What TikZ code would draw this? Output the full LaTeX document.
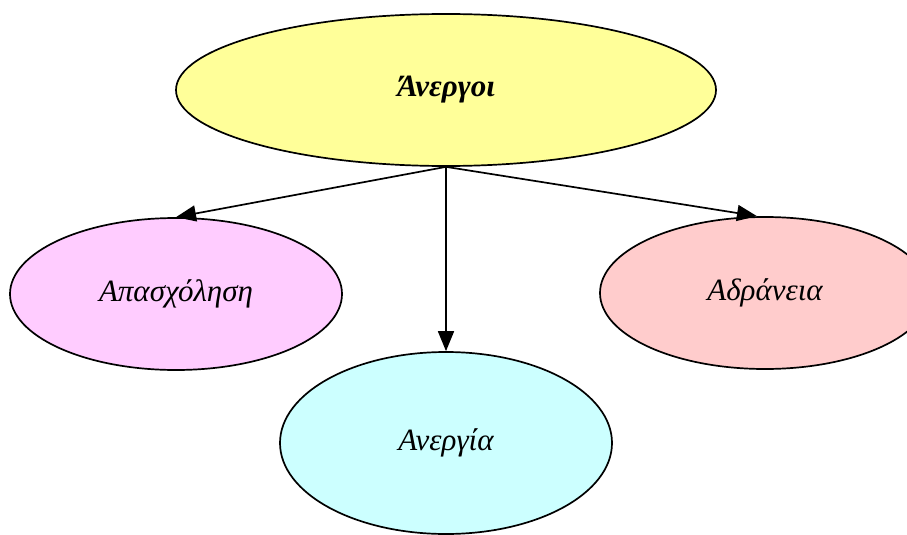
\documentclass[tikz,border=0pt]{standalone}
\usepackage{fontspec}
\usepackage{tikz}
\usetikzlibrary{shapes.geometric,arrows.meta,positioning}
\newfontfamily\greekfont{Liberation Serif}
\definecolor{topyellow}{RGB}{255,255,153}
\definecolor{leftpink}{RGB}{255,204,255}
\definecolor{midcyan}{RGB}{204,255,255}
\definecolor{rightrose}{RGB}{255,204,204}

\begin{document}
\begin{tikzpicture}[x=1pt, y=-1pt,
    state/.style={ellipse, draw=black, line width=1.7pt, fill=#1, inner sep=0pt, font=\greekfont\itshape\fontsize{31}{35}\selectfont},
    arrow/.style={-{Triangle[length=20pt,width=16pt]}, line width=1.7pt, black}
  ]
    \useasboundingbox (0,0) rectangle (907,535);
    \clip (0,0) rectangle (907,535);
    % Root
    \node[state=topyellow, minimum width=540pt, minimum height=152pt] (unemployed) at (446,90) {\bfseries Άνεργοι};

    % Children
    \node[state=leftpink, minimum width=332pt, minimum height=152pt] (employment) at (176,294) {Απασχόληση};
    \node[state=midcyan, minimum width=332pt, minimum height=182pt] (unemployment) at (446,443) {Ανεργία};
    \node[state=rightrose, minimum width=330pt, minimum height=152pt] (inactivity) at (765,293) {Αδράνεια};

    % Connections
    \draw[arrow] (unemployed.south) -- (employment.north);
    \draw[arrow] (unemployed.south) -- (unemployment.north);
    \draw[arrow] (unemployed.south) -- ([xshift=-8pt]inactivity.north);
\end{tikzpicture}
\end{document}
